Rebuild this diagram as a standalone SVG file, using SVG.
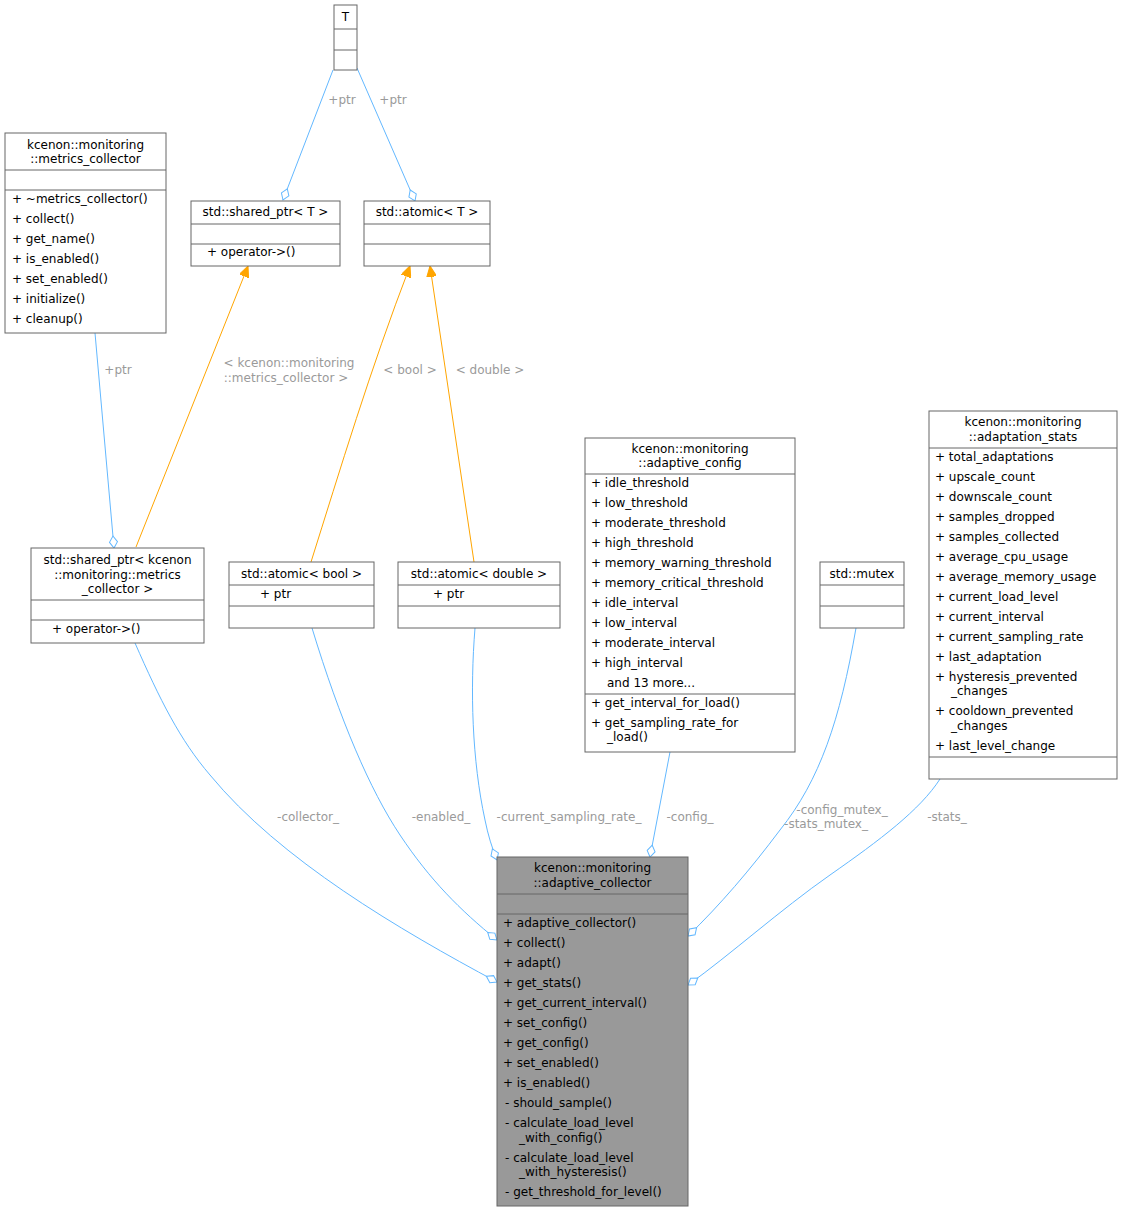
<svg xmlns="http://www.w3.org/2000/svg" width="1123" height="1212" viewBox="0 0 1123 1212">
<defs>
<style>
text{font-family:"DejaVu Sans",sans-serif;font-size:12px;fill:#000}
.c{text-anchor:middle}
.l{fill:#9a9a9a;text-anchor:middle}
.b{fill:#fff;stroke:#666;stroke-width:1}
.s{stroke:#666;stroke-width:1}
.e{fill:none;stroke:#63b8ff;stroke-width:1}
.o{fill:none;stroke:#ffa500;stroke-width:1}
</style>
<marker id="d" markerUnits="userSpaceOnUse" markerWidth="14" markerHeight="10" refX="13" refY="5" orient="auto"><path d="M1,5 L7,1 L13,5 L7,9 z" fill="#fff" stroke="#63b8ff"/></marker>
<marker id="a" markerUnits="userSpaceOnUse" markerWidth="12" markerHeight="10" refX="11" refY="5" orient="auto"><path d="M0,0 L11,5 L0,10 z" fill="#ffa500" stroke="#ffa500"/></marker>
</defs>
<rect width="1123" height="1212" fill="#fff"/>
<g id="edges">
<path class="e" d="M333,70 L283,200" marker-end="url(#d)"/><text class="l" x="342" y="104">+ptr</text>
<path class="e" d="M357,68 L415,201" marker-end="url(#d)"/><text class="l" x="393" y="104">+ptr</text>
<path class="e" d="M95,333 L114,548" marker-end="url(#d)"/><text class="l" x="118" y="374">+ptr</text>
<path class="o" d="M136,547 L248,266" marker-end="url(#a)"/><text class="l" x="289" y="367">&lt; kcenon::monitoring</text><text class="l" x="286" y="382">::metrics_collector &gt;</text>
<path class="o" d="M311,562 C340,470 370,370 410,266" marker-end="url(#a)"/><text class="l" x="410" y="374">&lt; bool &gt;</text>
<path class="o" d="M474,562 L430,266" marker-end="url(#a)"/><text class="l" x="490" y="374">&lt; double &gt;</text>
<path class="e" d="M135,643 C160,700 180,740 210,775 C280,860 400,930 497,982" marker-end="url(#d)"/><text class="l" x="308" y="821">-collector_</text>
<path class="e" d="M312,628 C340,720 370,790 400,835 C430,880 460,910 497,940" marker-end="url(#d)"/><text class="l" x="441" y="821">-enabled_</text>
<path class="e" d="M475,628 C470,690 472,760 485,820 C488,835 492,848 497,860" marker-end="url(#d)"/><text class="l" x="569" y="821">-current_sampling_rate_</text>
<path class="e" d="M670,752 L650,857" marker-end="url(#d)"/><text class="l" x="690" y="821">-config_</text>
<path class="e" d="M856,628 C840,720 820,780 780,830 C750,870 720,905 688,936" marker-end="url(#d)"/><text class="l" x="842" y="814">-config_mutex_</text><text class="l" x="826" y="828">-stats_mutex_</text>
<path class="e" d="M940,779 C920,810 880,840 830,875 C780,910 730,955 688,985" marker-end="url(#d)"/><text class="l" x="947" y="821">-stats_</text>
</g>
<g id="T"><rect class="b" x="334" y="5" width="23" height="65"/><line class="s" x1="334" y1="29" x2="357" y2="29"/><line class="s" x1="334" y1="50" x2="357" y2="50"/><text class="c" x="345.5" y="21">T</text></g>
<g id="metrics_collector"><rect class="b" x="5" y="133" width="161" height="200"/><line class="s" x1="5" y1="170" x2="166" y2="170"/><line class="s" x1="5" y1="190" x2="166" y2="190"/>
<text class="c" x="85.5" y="149">kcenon::monitoring</text><text class="c" x="85.5" y="163">::metrics_collector</text>
<text x="12" y="203">+  ~metrics_collector()</text><text x="12" y="223">+  collect()</text><text x="12" y="243">+  get_name()</text><text x="12" y="263">+  is_enabled()</text><text x="12" y="283">+  set_enabled()</text><text x="12" y="303">+  initialize()</text><text x="12" y="323">+  cleanup()</text></g>
<g id="shared_ptr_T"><rect class="b" x="191" y="201" width="149" height="65"/><line class="s" x1="191" y1="224" x2="340" y2="224"/><line class="s" x1="191" y1="244" x2="340" y2="244"/><text class="c" x="265.5" y="216">std::shared_ptr&lt; T &gt;</text><text x="207" y="256">+    operator-&gt;()</text></g>
<g id="atomic_T"><rect class="b" x="364" y="201" width="126" height="65"/><line class="s" x1="364" y1="224" x2="490" y2="224"/><line class="s" x1="364" y1="244" x2="490" y2="244"/><text class="c" x="427" y="216">std::atomic&lt; T &gt;</text></g>
<g id="shared_ptr_mc"><rect class="b" x="31" y="548" width="173" height="95"/><line class="s" x1="31" y1="600" x2="204" y2="600"/><line class="s" x1="31" y1="620" x2="204" y2="620"/>
<text class="c" x="117.5" y="564">std::shared_ptr&lt; kcenon</text><text class="c" x="117.5" y="579">::monitoring::metrics</text><text class="c" x="117.5" y="593">_collector &gt;</text><text x="52" y="633">+      operator-&gt;()</text></g>
<g id="atomic_bool"><rect class="b" x="229" y="562" width="145" height="66"/><line class="s" x1="229" y1="585" x2="374" y2="585"/><line class="s" x1="229" y1="606" x2="374" y2="606"/><text class="c" x="301.5" y="578">std::atomic&lt; bool &gt;</text><text x="260" y="598">+        ptr</text></g>
<g id="atomic_double"><rect class="b" x="398" y="562" width="162" height="66"/><line class="s" x1="398" y1="585" x2="560" y2="585"/><line class="s" x1="398" y1="606" x2="560" y2="606"/><text class="c" x="479" y="578">std::atomic&lt; double &gt;</text><text x="433" y="598">+         ptr</text></g>
<g id="adaptive_config"><rect class="b" x="585" y="438" width="210" height="314"/><line class="s" x1="585" y1="474" x2="795" y2="474"/><line class="s" x1="585" y1="694" x2="795" y2="694"/>
<text class="c" x="690" y="453">kcenon::monitoring</text><text class="c" x="690" y="467">::adaptive_config</text>
<text x="591" y="487">+  idle_threshold</text><text x="591" y="507">+  low_threshold</text><text x="591" y="527">+  moderate_threshold</text><text x="591" y="547">+  high_threshold</text><text x="591" y="567">+  memory_warning_threshold</text><text x="591" y="587">+  memory_critical_threshold</text><text x="591" y="607">+  idle_interval</text><text x="591" y="627">+  low_interval</text><text x="591" y="647">+  moderate_interval</text><text x="591" y="667">+  high_interval</text><text x="607" y="687">and 13 more...</text>
<text x="591" y="707">+  get_interval_for_load()</text><text x="591" y="727">+  get_sampling_rate_for</text><text x="607" y="741">_load()</text></g>
<g id="mutex"><rect class="b" x="820" y="562" width="84" height="66"/><line class="s" x1="820" y1="585" x2="904" y2="585"/><line class="s" x1="820" y1="606" x2="904" y2="606"/><text class="c" x="862" y="578">std::mutex</text></g>
<g id="adaptation_stats"><rect class="b" x="929" y="411" width="188" height="368"/><line class="s" x1="929" y1="448" x2="1117" y2="448"/><line class="s" x1="929" y1="757" x2="1117" y2="757"/>
<text class="c" x="1023" y="426">kcenon::monitoring</text><text class="c" x="1023" y="441">::adaptation_stats</text>
<text x="935" y="461">+  total_adaptations</text><text x="935" y="481">+  upscale_count</text><text x="935" y="501">+  downscale_count</text><text x="935" y="521">+  samples_dropped</text><text x="935" y="541">+  samples_collected</text><text x="935" y="561">+  average_cpu_usage</text><text x="935" y="581">+  average_memory_usage</text><text x="935" y="601">+  current_load_level</text><text x="935" y="621">+  current_interval</text><text x="935" y="641">+  current_sampling_rate</text><text x="935" y="661">+  last_adaptation</text><text x="935" y="681">+  hysteresis_prevented</text><text x="951" y="695">_changes</text><text x="935" y="715">+  cooldown_prevented</text><text x="951" y="730">_changes</text><text x="935" y="750">+  last_level_change</text></g>
<g id="adaptive_collector"><rect x="497" y="857" width="191" height="349" fill="#999" stroke="#666"/><line class="s" x1="497" y1="894" x2="688" y2="894"/><line class="s" x1="497" y1="914" x2="688" y2="914"/>
<text class="c" x="592.5" y="872">kcenon::monitoring</text><text class="c" x="592.5" y="887">::adaptive_collector</text>
<text x="503" y="927">+  adaptive_collector()</text><text x="503" y="947">+  collect()</text><text x="503" y="967">+  adapt()</text><text x="503" y="987">+  get_stats()</text><text x="503" y="1007">+  get_current_interval()</text><text x="503" y="1027">+  set_config()</text><text x="503" y="1047">+  get_config()</text><text x="503" y="1067">+  set_enabled()</text><text x="503" y="1087">+  is_enabled()</text><text x="505" y="1107">-   should_sample()</text><text x="505" y="1127">-   calculate_load_level</text><text x="519" y="1142">_with_config()</text><text x="505" y="1162">-   calculate_load_level</text><text x="519" y="1176">_with_hysteresis()</text><text x="505" y="1196">-   get_threshold_for_level()</text></g>
</svg>
